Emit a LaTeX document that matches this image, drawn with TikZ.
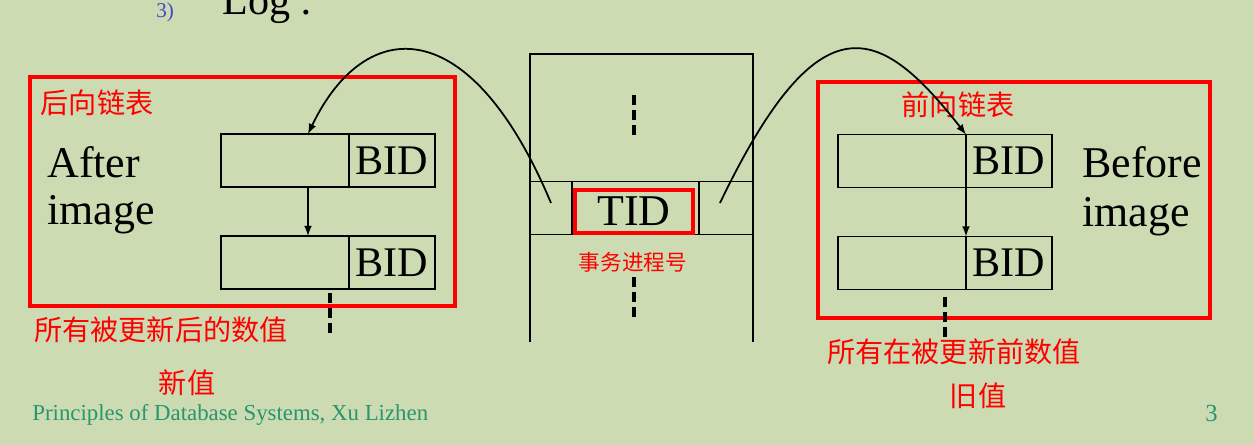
\documentclass[tikz,border=0pt]{standalone}
\usepackage{fontspec}
\setmainfont{Liberation Serif}
\newfontfamily\cjk{Noto Sans CJK SC}
\usetikzlibrary{arrows,positioning}
\definecolor{slidebg}{RGB}{205,219,178}
\definecolor{footgreen}{RGB}{40,150,110}
\definecolor{numblue}{RGB}{70,70,200}

\begin{document}
\begin{tikzpicture}[x=0.02cm, y=-0.02cm,
    cell/.style={draw, line width=1pt, minimum height=1.06cm, inner sep=0pt, outer sep=0pt},
    emptycell/.style={cell, minimum width=2.56cm},
    bidcell/.style={cell, minimum width=1.72cm, font=\fontsize{24}{24}\selectfont},
    redbox/.style={draw=red, line width=2.2pt},
    redtext/.style={text=red, font=\cjk\fontsize{16}{16}\selectfont, inner sep=0pt},
    bigtext/.style={font=\fontsize{25}{25}\selectfont, inner sep=0pt, anchor=base west},
    dots/.style={line width=2.2pt, dash pattern=on 5.5pt off 3pt},
    link/.style={-latex, line width=1pt}]
            \fill[slidebg] (0,0) rectangle (1254,445);
            \useasboundingbox (0,0) rectangle (1254,445);
            \clip (0,0) rectangle (1254,445);

            \node[anchor=base west, inner sep=0pt, text=numblue, font=\fontsize{12}{12}\selectfont] (num) at (156,18) {3)};
            \node[anchor=base west, inner sep=0pt, font=\fontsize{24}{24}\selectfont] (logt) at (222,15) {Log :};

            \node[emptycell] (a1) at (285,160.5) {};
            \node[bidcell, right=0pt of a1] (a1b) {BID};
            \node[emptycell, below=0.98cm of a1] (a2) {};
            \node[bidcell, right=0pt of a2] (a2b) {BID};
            \draw[redbox] (30,77) rectangle (455,306);
            \node[redtext] (lhead) at (97,103) {后向链表};
            \node[bigtext] (after) at (47,178) {After};
            \node[bigtext] (afterimg) at (47,225) {image};
            \draw[link] ([xshift=0.46cm]a1.south) -- ([xshift=0.46cm]a2.north);
            \draw[dots] (330,293) -- (330,336);

            \draw[line width=1pt] (530,342) -- (530,54) -- (753,54) -- (753,342);
            \node[cell, minimum width=0.84cm, anchor=west] (tl) at (530,208) {};
            \node[cell, minimum width=2.54cm, right=0pt of tl] (tm) {};
            \node[cell, minimum width=1.08cm, right=0pt of tm] (tr) {};
            \node[redbox, minimum width=2.36cm, minimum height=0.86cm, inner sep=0pt, font=\fontsize{25}{25}\selectfont] (tid) at (634,211.5) {TID};
            \node[redtext, font=\cjk\fontsize{12.3}{12.3}\selectfont] (tidlbl) at (633,262) {事务进程号};
            \draw[dots] (634,95) -- (634,138);
            \draw[dots] (634,277) -- (634,321);

            \node[emptycell] (b1) at (902,161) {};
            \node[bidcell, right=0pt of b1] (b1b) {BID};
            \node[emptycell, below=0.98cm of b1] (b2) {};
            \node[bidcell, right=0pt of b2] (b2b) {BID};
            \draw[redbox] (818,82) rectangle (1210,318);
            \node[redtext] (rhead) at (958,105) {前向链表};
            \node[bigtext] (before) at (1082,178) {Before};
            \node[bigtext] (beforeimg) at (1082,227) {image};
            \draw[link] (b1.south east) -- (b2.north east);
            \draw[dots] (945,297) -- (945,340);

            \draw[link] ([yshift=0.1cm]tl.center) .. controls (470,10) and (365,15) .. ([xshift=0.46cm]a1.north);
            \draw[link] ([xshift=-0.12cm,yshift=0.1cm]tr.center) .. controls (820,-5) and (880,25) .. (b1.north east);

            \node[redtext] (newall) at (161,330) {所有被更新后的数值};
            \node[redtext] (newval) at (187,383) {新值};
            \node[redtext] (oldall) at (954,352) {所有在被更新前数值};
            \node[redtext] (oldval) at (978,396) {旧值};

            \node[anchor=base west, inner sep=0pt, text=footgreen, font=\fontsize{13}{13}\selectfont] (foot) at (32,421) {Principles of Database Systems, Xu Lizhen};
            \node[anchor=base east, inner sep=0pt, text=footgreen, font=\fontsize{14}{14}\selectfont] (pageno) at (1218,422) {3};
        \end{tikzpicture}
\end{document}
